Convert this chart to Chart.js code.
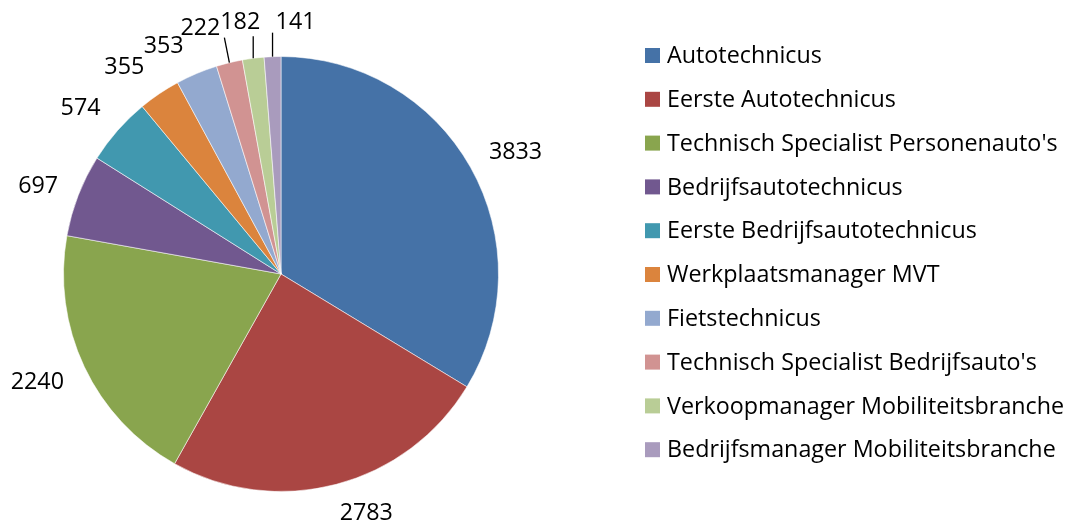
<!DOCTYPE html>
<html>
<head>
<meta charset="utf-8">
<script src="https://cdn.jsdelivr.net/npm/chart.js@4/dist/chart.umd.min.js"></script>
<style>
html,body{margin:0;padding:0;background:#fff;}
canvas{display:block;}
</style>
</head>
<body>
<canvas id="c" width="1075" height="527"></canvas>
<script>
const categories = [
  "Autotechnicus",
  "Eerste Autotechnicus",
  "Technisch Specialist Personenauto's",
  "Bedrijfsautotechnicus",
  "Eerste Bedrijfsautotechnicus",
  "Werkplaatsmanager MVT",
  "Fietstechnicus",
  "Technisch Specialist Bedrijfsauto's",
  "Verkoopmanager Mobiliteitsbranche",
  "Bedrijfsmanager Mobiliteitsbranche"
];
const values = [3833, 2783, 2240, 697, 574, 355, 353, 222, 182, 141];
const colors = ["#4572A7","#AA4643","#89A54E","#71588F","#4198AF","#DB843D","#93A9CF","#D19392","#B9CD96","#A99BBD"];

// label placement: offset of label centre from the slice's outer mid point
const labelOffsets = [[45,-16],[30,28],[-47,14],[-40,-10],[-37,-23],[-35,-27],[-33,-28],[-29,-35],[-13,-37],[23,-35]];
// leader line end (offset from outer mid point), null = none
const leaderEnds = [null,null,null,null,null,null,null,[-5,-25],[0,-22],[0,-24]];

const FONT = "23.3px 'Open Sans'";

const labelPlugin = {
  id: 'outLabels',
  afterDatasetsDraw(chart) {
    const ctx = chart.ctx;
    const meta = chart.getDatasetMeta(0);
    ctx.save();
    ctx.font = FONT;
    ctx.fillStyle = '#000';
    ctx.textAlign = 'center';
    ctx.textBaseline = 'middle';
    meta.data.forEach((arc, i) => {
      const p = arc.getProps(['x','y','startAngle','endAngle','outerRadius'], true);
      const mid = (p.startAngle + p.endAngle) / 2;
      const ex = p.x + Math.cos(mid) * p.outerRadius;
      const ey = p.y + Math.sin(mid) * p.outerRadius;
      const le = leaderEnds[i];
      if (le) {
        ctx.beginPath();
        ctx.strokeStyle = '#000';
        ctx.lineWidth = 1.3;
        ctx.moveTo(ex, ey);
        ctx.lineTo(ex + le[0], ey + le[1]);
        ctx.stroke();
      }
      const o = labelOffsets[i];
      ctx.fillText(String(chart.data.datasets[0].data[i]), ex + o[0], ey + o[1] + 1);
    });
    ctx.restore();
  }
};

const legendPlugin = {
  id: 'sideLegend',
  afterDraw(chart) {
    const ctx = chart.ctx;
    ctx.save();
    ctx.font = FONT;
    ctx.textAlign = 'left';
    ctx.textBaseline = 'middle';
    const x0 = 645, y0 = 55.5, step = 43.8, box = 15;
    chart.data.labels.forEach((lab, i) => {
      const y = y0 + i * step;
      ctx.fillStyle = chart.data.datasets[0].backgroundColor[i];
      ctx.fillRect(x0, y - box / 2, box, box);
      ctx.fillStyle = '#000';
      ctx.fillText(lab, x0 + 22, y + 1);
    });
    ctx.restore();
  }
};

new Chart(document.getElementById('c'), {
  type: 'pie',
  data: {
    labels: categories,
    datasets: [{
      data: values,
      backgroundColor: colors,
      borderColor: 'rgba(255,255,255,0.55)',
      borderWidth: 1
    }]
  },
  options: {
    responsive: false,
    animation: false,
    layout: { padding: { left: 63, top: 55, bottom: 34, right: 576 } },
    plugins: {
      legend: { display: false },
      tooltip: { enabled: false }
    }
  },
  plugins: [labelPlugin, legendPlugin]
});
</script>
</body>
</html>
